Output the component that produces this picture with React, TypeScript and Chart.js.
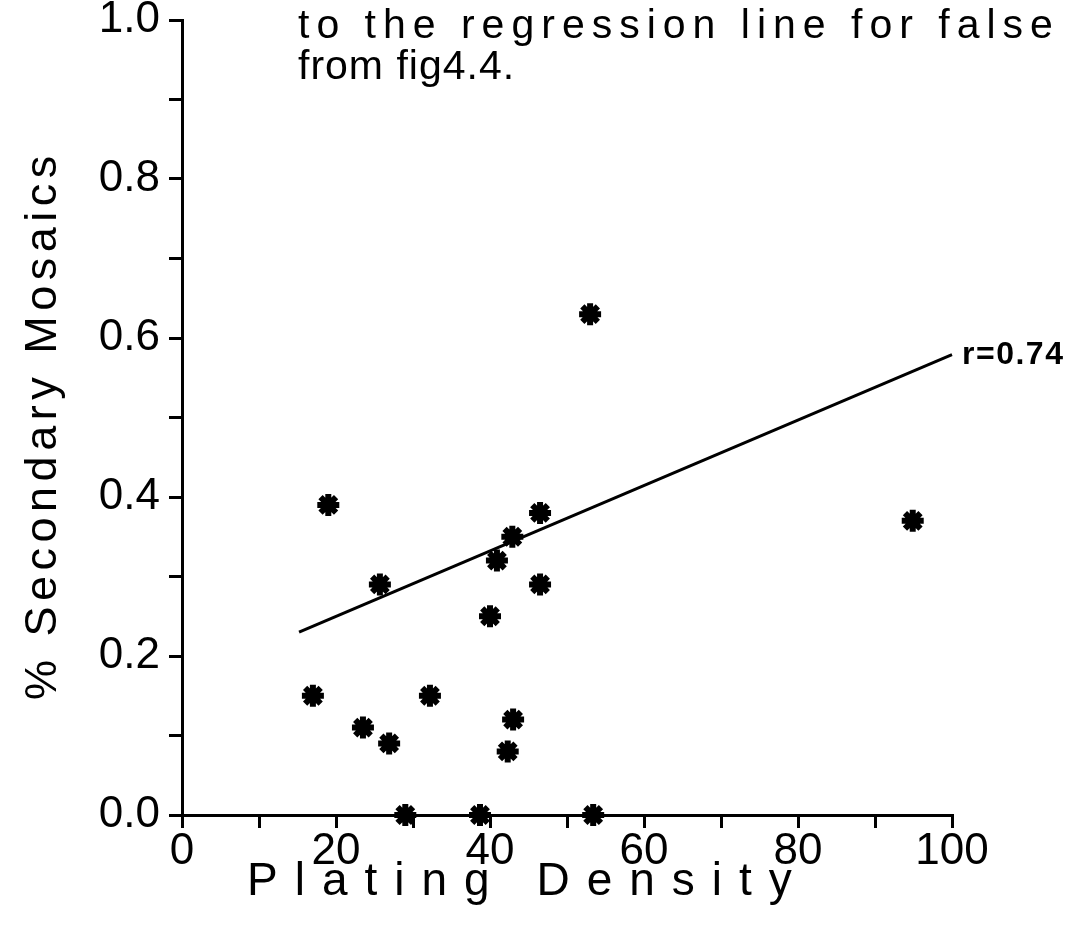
import React, { useEffect, useRef } from 'react';
import { Chart, registerables } from 'chart.js';

Chart.register(...registerables);

// ---- data ----
const densityX = [17.0, 19.0, 23.5, 25.7, 26.9, 29.0, 32.2, 38.7, 40.0, 40.9, 42.3, 42.9, 43.0, 46.5, 46.5, 53.0, 53.4, 94.9];
const mosaicY = [0.15, 0.39, 0.11, 0.29, 0.09, 0.0, 0.15, 0.0, 0.25, 0.32, 0.08, 0.35, 0.12, 0.38, 0.29, 0.63, 0.0, 0.37];
const fitX = [15.2, 100];
const fitY = [0.23, 0.579];

const xTickValues = [0, 20, 40, 60, 80, 100];
const xTickLabels = ['0', '20', '40', '60', '80', '100'];
const yTickValues = [0, 0.2, 0.4, 0.6, 0.8, 1.0];
const yTickLabels = ['0.0', '0.2', '0.4', '0.6', '0.8', '1.0'];

const xTitle = 'Plating Density';
const yTitle = '% Secondary Mosaics';
const noteLines = ['to the regression line for false', 'from fig4.4.'];
const rLabel = 'r=0.74';

const labelFor = (v: number, values: number[], labels: string[]) => {
  const i = values.findIndex((t) => Math.abs(t - v) < 1e-6);
  return i >= 0 ? labels[i] : '';
};

const textPlugin = {
  id: 'plotTexts',
  afterDraw(chart: any) {
    const ctx = chart.ctx as CanvasRenderingContext2D;
    const xs = chart.scales.x;
    const ys = chart.scales.y;
    ctx.save();
    ctx.fillStyle = '#000';
    ctx.textAlign = 'left';
    ctx.textBaseline = 'alphabetic';

    // x title
    ctx.font = '46px "Liberation Sans"';
    (ctx as any).letterSpacing = '17px';
    ctx.fillText(xTitle, 247, 895);

    // y title
    ctx.save();
    ctx.translate(56, 700);
    ctx.rotate(-Math.PI / 2);
    ctx.font = '45px "Liberation Sans"';
    (ctx as any).letterSpacing = '5.5px';
    ctx.fillText(yTitle, 0, 0);
    ctx.restore();

    // note lines at top
    ctx.font = '41px "Liberation Sans"';
    (ctx as any).letterSpacing = '7px';
    ctx.fillText(noteLines[0], 298, 38);
    (ctx as any).letterSpacing = '1px';
    ctx.fillText(noteLines[1], 298, 79);

    // r label at end of the regression line
    ctx.font = 'bold 32px "Liberation Sans"';
    (ctx as any).letterSpacing = '1.5px';
    ctx.textBaseline = 'middle';
    const lx = xs.getPixelForValue(fitX[fitX.length - 1]) + 10;
    const ly = ys.getPixelForValue(fitY[fitY.length - 1]);
    ctx.fillText(rLabel, lx, ly);
    ctx.restore();
  },
};

export default function App() {
  const ref = useRef<HTMLCanvasElement | null>(null);

  useEffect(() => {
    document.body.style.margin = '0';
    const canvas = ref.current;
    if (!canvas) return;
    const tickFont = { family: '"Liberation Sans"', size: 44 };
    const chart = new Chart(canvas, {
      type: 'scatter',
      data: {
        datasets: [
          {
            label: 'fit',
            data: fitX.map((x, i) => ({ x, y: fitY[i] })),
            showLine: true,
            borderColor: '#000',
            borderWidth: 3,
            pointRadius: 0,
            clip: false,
          } as any,
          {
            label: 'points',
            data: densityX.map((x, i) => ({ x, y: mosaicY[i] })),
            pointStyle: 'star',
            pointRadius: 11,
            borderColor: '#000',
            backgroundColor: '#000',
            pointBorderWidth: 6,
            borderWidth: 6,
            showLine: false,
            clip: false,
          } as any,
        ],
      },
      options: {
        responsive: false,
        animation: false,
        layout: { padding: { top: 20, right: 117, left: 0, bottom: 0 } },
        plugins: { legend: { display: false }, tooltip: { enabled: false } },
        scales: {
          x: {
            type: 'linear',
            min: 0,
            max: 100,
            afterFit: (s: any) => {
              s.height = 122;
              s.paddingLeft = 0;
              s.paddingRight = 0;
            },
            border: { display: true, color: '#000', width: 3 },
            grid: { drawOnChartArea: false, drawTicks: true, tickLength: 13, color: '#000', lineWidth: 3 },
            ticks: {
              stepSize: 10,
              autoSkip: false,
              maxRotation: 0,
              color: '#000',
              font: { ...tickFont, lineHeight: 1 },
              padding: 2,
              callback: (v: any) => labelFor(Number(v), xTickValues, xTickLabels),
            },
          },
          y: {
            type: 'linear',
            min: 0,
            max: 1,
            afterFit: (s: any) => {
              s.width = 182;
              s.paddingTop = 0;
              s.paddingBottom = 0;
            },
            border: { display: true, color: '#000', width: 3 },
            grid: { drawOnChartArea: false, drawTicks: true, tickLength: 13, color: '#000', lineWidth: 3 },
            ticks: {
              stepSize: 0.1,
              autoSkip: false,
              color: '#000',
              font: tickFont,
              padding: 9,
              callback: (v: any) => labelFor(Number(v), yTickValues, yTickLabels),
            },
          },
        },
      } as any,
      plugins: [textPlugin],
    });
    return () => chart.destroy();
  }, []);

  return (
    <div style={{ width: 1069, height: 937, background: '#fff' }}>
      <canvas ref={ref} width={1069} height={937} style={{ display: 'block' }} />
    </div>
  );
}
